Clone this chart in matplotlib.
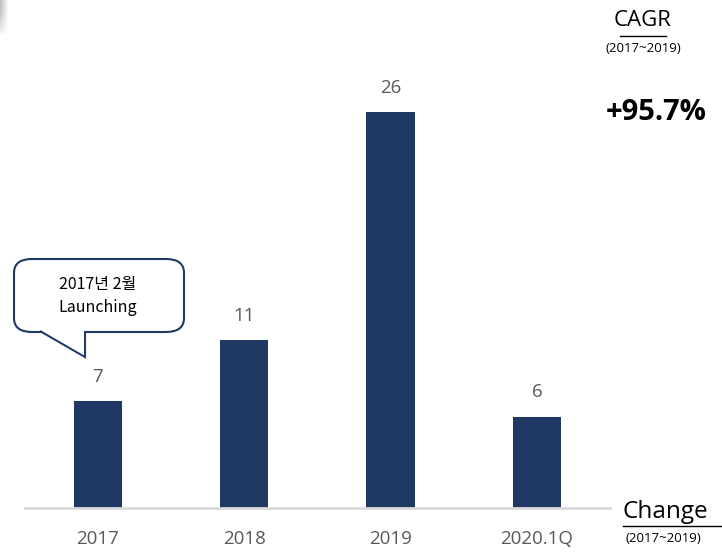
import numpy as np
import matplotlib.pyplot as plt
from matplotlib.patches import FancyBboxPatch, Polygon

years = ['2017', '2018', '2019', '2020.1Q']
counts = [7, 11, 26, 6]

bar_color = '#203864'
label_gray = '#595959'

fig = plt.figure(figsize=(7.22, 5.55), dpi=100)
W, H = 722, 555

# axes placed so the baseline sits near the bottom and bars fill the left part
ax = fig.add_axes([10 / W, 47 / H, 600 / W, 457 / H])
x = np.arange(len(years))
ax.bar(x, counts, width=0.33, color=bar_color, zorder=2)
ax.set_xlim(-0.6, 3.5)
ax.set_ylim(0, 30)

for xi, v in zip(x, counts):
    ax.text(xi, v + 1.0, str(v), ha='center', va='bottom',
            fontsize=13.5, color=label_gray, family='Open Sans')

ax.set_xticks(x)
ax.set_xticklabels(years, fontsize=13.5, color=label_gray, family='Open Sans')
ax.tick_params(axis='x', length=0, pad=16)
ax.set_yticks([])
for s in ['top', 'right', 'left', 'bottom']:
    ax.spines[s].set_visible(False)
ax.plot([-0.5, 3.5], [0, 0], color='#d9d9d9', lw=2, zorder=3, clip_on=False)

# speech bubble for the launch note
bubble = FancyBboxPatch((14 / W, 223 / H), 170 / W, 73 / H,
                        boxstyle='round,pad=0,rounding_size=0.025',
                        transform=fig.transFigure, facecolor='white',
                        edgecolor='#203864', lw=1.5, zorder=5)
fig.patches.append(bubble)
tail = Polygon([(40 / W, 224 / H), (85 / W, 198 / H), (85 / W, 224 / H)],
               closed=False, transform=fig.transFigure, facecolor='white',
               edgecolor='#203864', lw=1.5, zorder=6)
fig.patches.append(tail)
fig.patches.append(Polygon([(41 / W, 225 / H), (84 / W, 200 / H), (84 / W, 225 / H)],
                           transform=fig.transFigure, facecolor='white',
                           edgecolor='none', zorder=7))
fig.text(98 / W, 270 / H, '2017년 2월', ha='center', va='center', fontsize=11.5,
         family=['Noto Sans CJK KR', 'DejaVu Sans'], color='black', zorder=8)
fig.text(98 / W, 247 / H, 'Launching', ha='center', va='center', fontsize=11.5,
         family=['Noto Sans CJK KR', 'DejaVu Sans'], color='black', zorder=8)

# CAGR block on the right
fig.text(643 / W, 534 / H, 'CAGR', ha='center', va='center', fontsize=16,
         family='Open Sans', color='black')
fig.lines.append(plt.Line2D([620 / W, 666 / W], [519 / H, 519 / H],
                            transform=fig.transFigure, color='black', lw=1))
fig.text(643 / W, 507 / H, '(2017~2019)', ha='center', va='center', fontsize=9.5,
         family='Open Sans', color='black')
fig.text(656 / W, 443 / H, '+95.7%', ha='center', va='center', fontsize=21,
         family='Open Sans', fontweight='bold', color='black')

# Change label at the baseline
fig.text(622 / W, 43 / H, 'Change', ha='left', va='center', fontsize=17.5,
         family='Open Sans', color='black')
fig.lines.append(plt.Line2D([623 / W, 722 / W], [29 / H, 29 / H],
                            transform=fig.transFigure, color='black', lw=1))
fig.text(626 / W, 17 / H, '(2017~2019)', ha='left', va='center', fontsize=9.5,
         family='Open Sans', color='black')

# faint shadow in the top-left corner
grad = np.ones((36, 9, 4))
xs = np.linspace(1, 0, 9)
ys = np.linspace(0, 1, 36)[:, None]
alpha = 0.45 * xs[None, :] * (1 - ys ** 2)
grad[..., :3] = 0.45
grad[..., 3] = alpha
fig.figimage(grad, xo=0, yo=H - 36, origin='upper', zorder=10)

fig.savefig('out.png', dpi=100)
